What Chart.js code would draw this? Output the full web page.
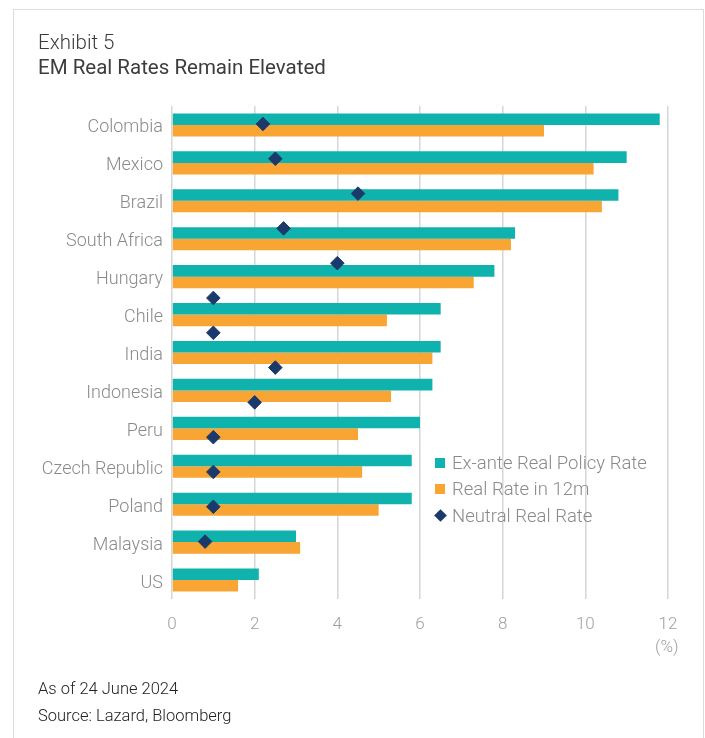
<!DOCTYPE html>
<html><head><meta charset="utf-8">
<script src="https://cdn.jsdelivr.net/npm/chart.js@4.4.1/dist/chart.umd.min.js"></script>
<style>
html,body{margin:0;padding:0;background:#fff;}
body{width:705px;height:738px;overflow:hidden;position:relative;font-family:Roboto,"Noto Sans",sans-serif;}
#frame{position:absolute;left:13px;top:9px;width:691px;height:800px;border:1.5px solid #dcdcdc;box-sizing:border-box;}
#wrap{position:absolute;left:0;top:0;width:705px;height:738px;}
.txt{position:absolute;white-space:nowrap;}
.t1{left:38px;top:30px;font-size:20.5px;line-height:25px;font-weight:300;color:#3c3c3c;}
.t2{left:38px;top:55px;font-size:20.5px;line-height:25px;font-weight:400;color:#3c3c3c;}
.fn{left:38px;font-size:16.5px;line-height:20px;font-weight:300;color:#222;letter-spacing:0px;}
#legend{position:absolute;left:430px;top:453px;}
.li{position:absolute;left:0;height:20px;white-space:nowrap;font-size:18.5px;line-height:20px;font-weight:300;color:#8a8a8a;}
.sw{position:absolute;}
.unit{position:absolute;font-size:17px;line-height:20px;font-weight:300;color:#a0a0a0;}
</style></head>
<body>
<div id="frame"></div>
<div id="wrap"><canvas id="c" width="705" height="738"></canvas></div>
<div class="txt t1">Exhibit 5</div>
<div class="txt t2">EM Real Rates Remain Elevated</div>
<div class="txt fn" style="top:679px">As of 24 June 2024</div>
<div class="txt fn" style="top:706px">Source: Lazard, Bloomberg</div>
<div id="legend"></div>
<div class="unit" id="unit">(%)</div>
<script>
const countries = ["Colombia","Mexico","Brazil","South Africa","Hungary","Chile","India","Indonesia","Peru","Czech Republic","Poland","Malaysia","US"];
const exAnteRealPolicyRate = [11.8, 11.0, 10.8, 8.3, 7.8, 6.5, 6.5, 6.3, 6.0, 5.8, 5.8, 3.0, 2.1];
const realRateIn12m = [9.0, 10.2, 10.4, 8.2, 7.3, 5.2, 6.3, 5.3, 4.5, 4.6, 5.0, 3.1, 1.6];
const neutralRealRate = [2.2, 2.5, 4.5, 2.7, 4.0, 1.0, 1.0, 2.5, 2.0, 1.0, 1.0, 1.0, 0.8];
const xTicks = [0, 2, 4, 6, 8, 10, 12];

const TEAL = "#10b2ae", ORANGE = "#f9a533", NAVY = "#1b3a6b";
const FONT = "Roboto, 'Noto Sans', sans-serif";

const chart = new Chart(document.getElementById("c"), {
  type: "bar",
  data: {
    labels: countries,
    datasets: [
      { label: "Ex-ante Real Policy Rate", data: exAnteRealPolicyRate, backgroundColor: TEAL,
        indexAxis: "y", yAxisID: "y", categoryPercentage: 0.61, barPercentage: 1.0, order: 2 },
      { label: "Real Rate in 12m", data: realRateIn12m, backgroundColor: ORANGE,
        indexAxis: "y", yAxisID: "y", categoryPercentage: 0.61, barPercentage: 1.0, order: 2 },
      { label: "Neutral Real Rate", type: "scatter", indexAxis: "x",
        data: neutralRealRate.map((v, i) => ({ x: v, y: i })),
        yAxisID: "y2", pointStyle: "rectRot", pointRadius: 6.8,
        backgroundColor: NAVY, borderColor: NAVY, borderWidth: 1, order: 1 }
    ]
  },
  options: {
    responsive: false,
    animation: false,
    events: [],
    layout: { padding: { top: 106, right: 37, left: 0, bottom: 0 } },
    plugins: { legend: { display: false }, tooltip: { enabled: false } },
    scales: {
      x: {
        type: "linear", min: 0, max: 12, offset: false, position: "bottom",
        afterBuildTicks: s => { s.ticks = xTicks.map(v => ({ value: v })); },
        afterFit: s => { s.height = 139; },
        grid: { color: "#d6d6d6", lineWidth: 1.5, drawTicks: false, offset: false },
        border: { display: false },
        ticks: { color: "#a0a0a0", padding: 16, font: { family: FONT, size: 17, weight: 300 } }
      },
      y: {
        type: "category", offset: true, position: "left",
        afterFit: s => { s.width = 172; },
        grid: { display: false, drawTicks: false, offset: true },
        border: { display: false },
        ticks: { color: "#8a8a8a", padding: 9, labelOffset: 3, font: { family: FONT, size: 18, weight: 300 } }
      },
      y2: {
        type: "linear", display: false, reverse: true, offset: false, bounds: "data",
        beginAtZero: false, grid: { offset: false },
        min: -0.517, max: 13.65
      }
    }
  }
});

const leg = document.getElementById("legend");
chart.data.datasets.forEach((ds, i) => {
  const row = document.createElement("div");
  row.className = "li";
  row.style.top = (i * 26.3) + "px";
  const sw = document.createElement("div");
  sw.className = "sw";
  if (ds.pointStyle === "rectRot") {
    sw.style.cssText = "left:5.5px;top:5.5px;width:9px;height:9px;transform:rotate(45deg);background:" + ds.backgroundColor;
  } else {
    sw.style.cssText = "left:5px;top:5px;width:10px;height:10px;background:" + ds.backgroundColor;
  }
  const tx = document.createElement("span");
  tx.textContent = ds.label;
  tx.style.cssText = "position:absolute;left:22px;top:0;";
  row.appendChild(sw); row.appendChild(tx);
  leg.appendChild(row);
});

const xs = chart.scales.x;
const unit = document.getElementById("unit");
const px = xs.getPixelForValue(xTicks[xTicks.length - 1]);
unit.style.left = (px - 13) + "px";
unit.style.top = "636px";
</script>
</body></html>
